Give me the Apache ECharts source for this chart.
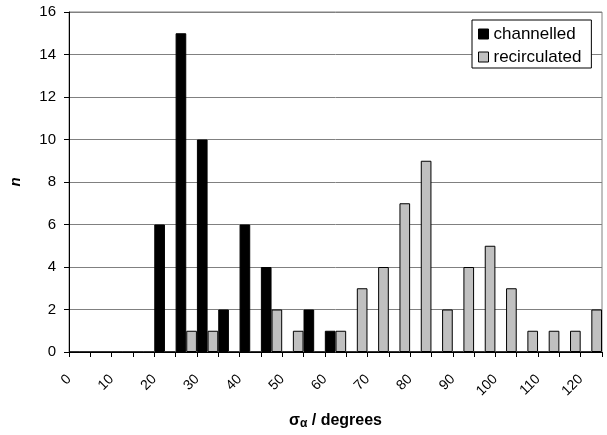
<!DOCTYPE html>
<html>
<head>
<meta charset="utf-8">
<script src="https://cdn.jsdelivr.net/npm/echarts@6/dist/echarts.min.js"></script>
<style>html,body{margin:0;padding:0;background:#fff}#c{width:607px;height:435px}</style>
</head>
<body>
<div id="c"></div>
<script>
// bins of sigma_alpha (degrees), lower edge of each 5-degree bin
const bins = [0,5,10,15,20,25,30,35,40,45,50,55,60,65,70,75,80,85,90,95,100,105,110,115,120];
const channelled   = [0,0,0,0,6,15,10,2,6,4,0,2,1,0,0,0,0,0,0,0,0,0,0,0,0];
const recirculated = [0,0,0,0,0,1,1,0,0,2,1,0,1,3,4,7,9,2,4,5,3,1,1,1,2];
const xTickLabels = [0,10,20,30,40,50,60,70,80,90,100,110,120];
const yTicks = [0,2,4,6,8,10,12,14,16];

const FONT = 'Liberation Sans, Arial, sans-serif';
const chart = echarts.init(document.getElementById('c'), null, {renderer:'canvas'});
chart.setOption({
  animation: false,
  backgroundColor: '#fff',
  textStyle: {fontFamily: FONT},
  grid: {left: 66, right: 5, top: 12, bottom: 82, show: true, borderColor: '#808080', borderWidth: 1, containLabel: false},
  legend: {
    orient: 'vertical', left: 472, top: 20,
    backgroundColor: '#fff', borderColor: '#000', borderWidth: 1,
    padding: [5, 10, 2, 6], itemGap: 5, itemWidth: 10, itemHeight: 10, itemTextGap: 6,
    icon: 'rect',
    textStyle: {fontSize: 17, color: '#000', fontFamily: FONT, lineHeight: 18},
    data: [
      {name: 'channelled', itemStyle: {color: '#000', borderColor: '#000', borderWidth: 1}},
      {name: 'recirculated', itemStyle: {color: '#c0c0c0', borderColor: '#000', borderWidth: 1}}
    ]
  },
  xAxis: [
    {
      type: 'category', data: bins.map(String), boundaryGap: true,
      axisLine: {show: false}, axisTick: {show: false}, axisLabel: {show: false}, splitLine: {show: false}
    },
    {
      type: 'value', min: 0, max: 125, interval: 5, position: 'bottom',
      axisLine: {show: true, onZero: false, lineStyle: {color: '#000', width: 1}},
      axisTick: {show: true, inside: false, length: 5, lineStyle: {color: '#000'}},
      splitLine: {show: false},
      axisLabel: {
        rotate: 45, margin: 25, fontSize: 14, color: '#000', fontFamily: FONT,
        formatter: function (v) { return xTickLabels.indexOf(v) >= 0 ? String(v) : ''; }
      },
      name: '{a|σ}{b|α}{a| / degrees}', nameLocation: 'middle', nameGap: 60,
      nameTextStyle: {
        rich: {
          a: {fontSize: 16, fontWeight: 'bold', color: '#000', fontFamily: FONT},
          b: {fontSize: 12, fontWeight: 'bold', color: '#000', fontFamily: FONT, verticalAlign: 'bottom', padding: [6, 0, 0, 0]}
        }
      }
    }
  ],
  yAxis: {
    type: 'value', min: 0, max: 16, interval: 2,
    axisLine: {show: true, lineStyle: {color: '#000', width: 1}},
    axisTick: {show: true, inside: false, length: 5, lineStyle: {color: '#000'}},
    splitLine: {show: true, lineStyle: {color: '#808080', width: 1}},
    axisLabel: {fontSize: 15, color: '#000', margin: 13, fontFamily: FONT,
      formatter: function (v) { return yTicks.indexOf(v) >= 0 ? String(v) : ''; }},
    name: 'n', nameLocation: 'middle', nameGap: 46, nameRotate: 90,
    nameTextStyle: {fontSize: 15, fontWeight: 'bold', fontStyle: 'italic', color: '#000', fontFamily: FONT}
  },
  series: [
    {
      name: 'channelled', type: 'bar', xAxisIndex: 0, data: channelled,
      barGap: '0%', barCategoryGap: '0%',
      itemStyle: {color: '#000', borderColor: '#000', borderWidth: 1}
    },
    {
      name: 'recirculated', type: 'bar', xAxisIndex: 0, data: recirculated,
      barGap: '0%', barCategoryGap: '0%',
      itemStyle: {color: '#c0c0c0', borderColor: '#000', borderWidth: 1}
    }
  ]
});
</script>
</body>
</html>
